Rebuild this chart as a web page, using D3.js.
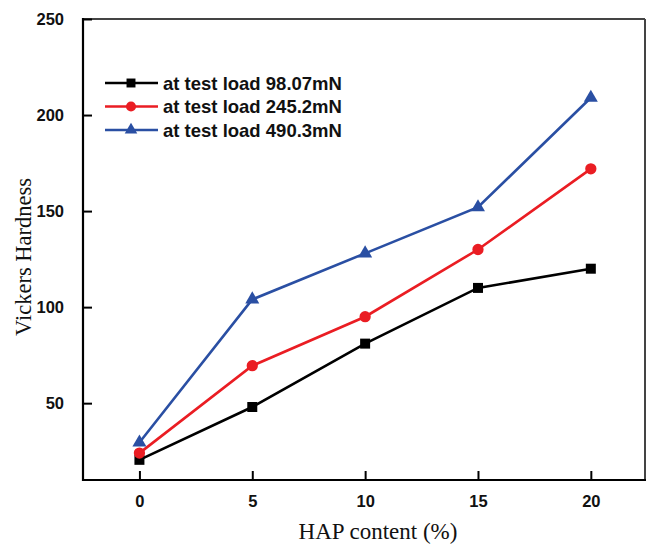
<!DOCTYPE html>
<html>
<head>
<meta charset="utf-8">
<script src="https://cdn.jsdelivr.net/npm/d3@7"></script>
<style>
  html, body { margin: 0; padding: 0; background: #fff; }
  svg { display: block; }
</style>
</head>
<body>
<svg id="chart" width="648" height="546"></svg>
<script>
const hapContent = [0, 5, 10, 15, 20];
const load98 = [20.5, 48, 81, 110, 120];
const load245 = [24, 69.5, 95, 130, 172];
const load490 = [29.5, 104, 128, 152, 209];
const seriesNames = ["at test load 98.07mN", "at test load 245.2mN", "at test load 490.3mN"];
const xTicks = [0, 5, 10, 15, 20];
const yTicks = [50, 100, 150, 200, 250];

const series = [
  { name: seriesNames[0], values: load98, color: "#000000", shape: d3.symbolSquare, size: 100 },
  { name: seriesNames[1], values: load245, color: "#ea1d23", shape: d3.symbolCircle, size: 100 },
  { name: seriesNames[2], values: load490, color: "#2a4fa3", shape: d3.symbolTriangle, size: 85 }
];

const svg = d3.select("#chart");
const L = 83, R = 645, T = 19, B = 480;

const x = d3.scaleLinear().domain([-2.5, 22.4]).range([L, R]);
const y = d3.scaleLinear().domain([10, 250]).range([B, T]);

// frame
svg.append("line").attr("x1", L).attr("x2", R).attr("y1", T).attr("y2", T)
  .attr("stroke", "#444").attr("stroke-width", 2);
svg.append("line").attr("x1", R).attr("x2", R).attr("y1", T).attr("y2", B)
  .attr("stroke", "#444").attr("stroke-width", 2);

const xAxis = svg.append("g").attr("transform", `translate(0,${B})`)
  .call(d3.axisBottom(x).tickValues(xTicks).tickSizeInner(-9).tickSizeOuter(0).tickPadding(15));
const yAxis = svg.append("g").attr("transform", `translate(${L},0)`)
  .call(d3.axisLeft(y).tickValues(yTicks).tickSizeInner(-9).tickSizeOuter(0).tickPadding(19));

[xAxis, yAxis].forEach(g => {
  g.select(".domain").attr("stroke", "#000").attr("stroke-width", 2.2);
  g.selectAll(".tick line").attr("stroke", "#000").attr("stroke-width", 2);
  g.selectAll(".tick text").attr("fill", "#111")
    .style("font-family", "'Liberation Sans', Arial, sans-serif")
    .style("font-weight", "bold").style("font-size", "16.5px");
});
xAxis.select(".domain").attr("d", `M${L - 1},0H${R + 1}`);
yAxis.select(".domain").attr("d", `M0,${T - 1}V${B + 1}`);

// axis titles
svg.append("text").attr("x", 378).attr("y", 539).attr("text-anchor", "middle")
  .style("font-family", "'Liberation Serif', 'Times New Roman', serif").style("font-size", "23px")
  .attr("fill", "#111").text("HAP content (%)");
svg.append("text").attr("transform", "translate(31,257) rotate(-90)").attr("text-anchor", "middle")
  .style("font-family", "'Liberation Serif', 'Times New Roman', serif").style("font-size", "22.5px")
  .attr("fill", "#111").text("Vickers Hardness");

const line = d3.line().x((d, i) => x(hapContent[i])).y(d => y(d));

series.forEach(s => {
  svg.append("path").datum(s.values).attr("d", line)
    .attr("fill", "none").attr("stroke", s.color).attr("stroke-width", 2.6);
  svg.append("g").selectAll("path").data(s.values).join("path")
    .attr("transform", (d, i) => `translate(${x(hapContent[i])},${y(d)})`)
    .attr("d", d3.symbol().type(s.shape).size(s.size))
    .attr("fill", s.color);
});

// legend
const lg = svg.append("g");
series.forEach((s, i) => {
  const ly = 83 + i * 23.5;
  lg.append("line").attr("x1", 105).attr("x2", 158).attr("y1", ly).attr("y2", ly)
    .attr("stroke", s.color).attr("stroke-width", 2.6);
  lg.append("path").attr("transform", `translate(131,${ly})`)
    .attr("d", d3.symbol().type(s.shape).size(s.size * 0.8)).attr("fill", s.color);
  lg.append("text").attr("x", 163).attr("y", ly + 6.5)
    .style("font-family", "'Liberation Sans', Arial, sans-serif").style("font-weight", "bold")
    .style("font-size", "18.5px").attr("fill", "#111").text(s.name);
});
</script>
</body>
</html>
